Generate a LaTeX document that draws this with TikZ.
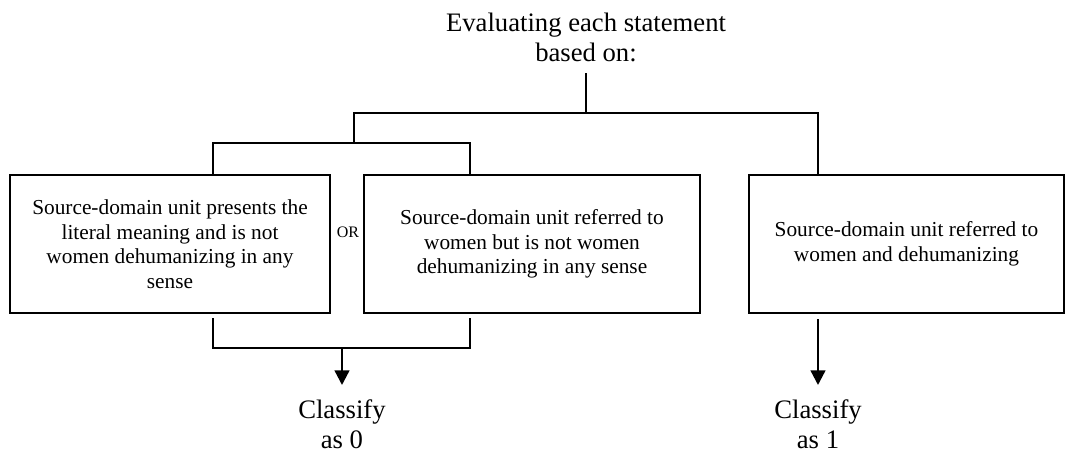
\documentclass[tikz,border=0pt]{standalone}
\usepackage{fontspec}
\setmainfont{Liberation Serif}
\usetikzlibrary{arrows.meta}

\tikzset{
  wire/.style={line width=1.75pt, line cap=rect},
  flow/.style={line width=1.75pt, -{Triangle[width=11pt,length=11pt]}},
  crit/.style={draw, line width=1.75pt, align=center, inner sep=0pt,
               font=\fontsize{16}{18.4}\selectfont},
  heading/.style={align=center, inner sep=0pt, font=\fontsize{20}{22.5}\selectfont},
  outcome/.style={heading, font=\fontsize{20}{23}\selectfont, anchor=north,
                  inner xsep=0pt, inner ysep=10.5pt},
}

\begin{document}
\begin{tikzpicture}[x=0.75pt, y=-0.75pt]
  \fill[white] (0,0) rectangle (1068,455);
  \useasboundingbox (0,0) rectangle (1068,455);

  % heading
  \node[heading, anchor=north] (title) at (586,13) {Evaluating each statement\\based on:};

  % criteria boxes
  \node[crit, minimum width=240pt, minimum height=103.5pt] (box1) at (170,244)
    {Source-domain unit presents the\\literal meaning and is not\\women dehumanizing in any\\sense};
  \node[crit, minimum width=252pt, minimum height=103.5pt] (box2) at (532,244)
    {Source-domain unit referred to\\women but is not women\\dehumanizing in any sense};
  \node[crit, minimum width=236pt, minimum height=103.5pt] (box3) at (906.5,244)
    {Source-domain unit referred to\\women and dehumanizing};
  \node[inner sep=0pt, font=\fontsize{12}{14}\selectfont] (or) at (348,232) {OR};

  % outcomes
  \node[outcome] (c0) at (342,385) {Classify\\as 0};
  \node[outcome] (c1) at (818,385) {Classify\\as 1};

  % branching points
  \coordinate (hubL) at (354,113);
  \coordinate (hubR) at (818,113);
  \coordinate (a1) at (213,143);
  \coordinate (a2) at (470,143);
  \coordinate (b1) at (213,348);
  \coordinate (b2) at (470,348);
  \coordinate (bm) at (342,348);

  % tree from the heading down to the boxes
  \draw[wire] ([yshift=-9pt]title.south) -- (title.south |- hubL);
  \draw[wire] (hubL |- a1) -- (hubL) -- (hubR) -- (hubR |- box3.north);
  \draw[wire] (a1 |- box1.north) -- (a1) -- (a2) -- (a2 |- box2.north);

  % collecting bracket and arrows to the outcomes
  \draw[wire] ([yshift=-3.75pt]box1.south -| b1) -- (b1) -- (b2) -- ([yshift=-3.75pt]box2.south -| b2);
  \draw[flow] (bm) -- (c0.north);
  \draw[flow] ([yshift=-3.75pt]box3.south -| hubR) -- (c1.north);
\end{tikzpicture}
\end{document}
